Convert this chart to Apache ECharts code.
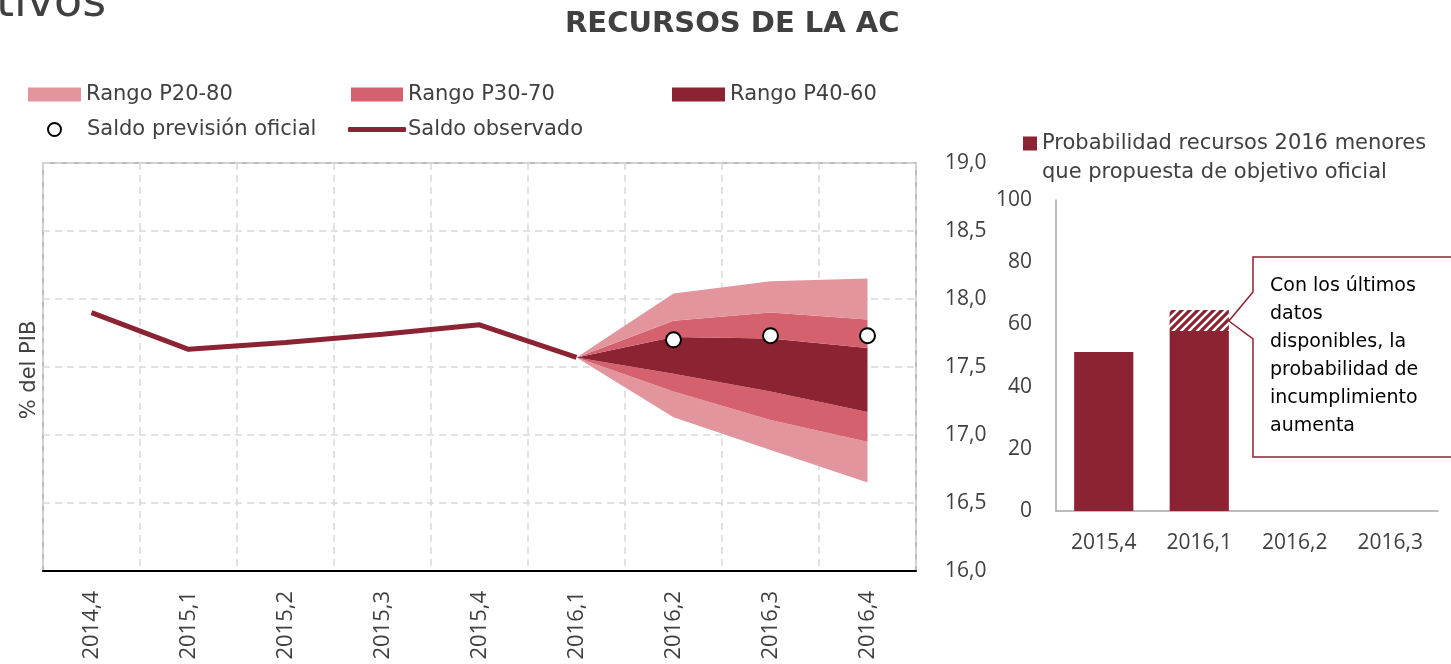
<!DOCTYPE html>
<html>
<head>
<meta charset="utf-8">
<script src="https://cdn.jsdelivr.net/npm/echarts@6/dist/echarts.min.js"></script>
<style>
  html, body { margin: 0; padding: 0; background: #fff; }
  #chart { width: 1451px; height: 664px; }
</style>
</head>
<body>
<div id="chart"></div>
<script>
// eje trimestral del abanico
const categories = ['2014,4', '2015,1', '2015,2', '2015,3', '2015,4', '2016,1', '2016,2', '2016,3', '2016,4'];

// saldo observado y prevision oficial (% del PIB)
const observed = [17.90, 17.63, 17.68, 17.74, 17.81, 17.57, null, null, null];
const official = [null, null, null, null, null, null, 17.70, 17.73, 17.73];

// percentiles del abanico
const p20Low  = [null, null, null, null, null, 17.57, 17.13, 16.89, 16.65];
const p30Low  = [null, null, null, null, null, 17.57, 17.32, 17.11, 16.95];
const p40Low  = [null, null, null, null, null, 17.57, 17.45, 17.32, 17.17];
const p40High = [null, null, null, null, null, 17.57, 17.72, 17.71, 17.64];
const p30High = [null, null, null, null, null, 17.57, 17.84, 17.90, 17.85];
const p20High = [null, null, null, null, null, 17.57, 18.04, 18.13, 18.15];

// grafico de barras de la derecha
const barCategories = ['2015,4', '2016,1', '2016,2', '2016,3'];
const probability = [51.1, 57.9, null, null];
const probabilityUpdate = [null, 6.7, null, null];

const TEXT = '#404040';
const DARK = '#8B2332';
const MID = '#D5606E';
const LIGHT = '#E3959E';
const FONT = 'DejaVu Sans';
const NUM_FONT = 'Open Sans';

const chart = echarts.init(document.getElementById('chart'), null, { renderer: 'canvas' });

const diff = (a, b) => a.map((v, i) => (v == null || b[i] == null) ? '-' : +(b[i] - v).toFixed(3));
const dash = arr => arr.map(v => v == null ? '-' : v);

// trama rayada para la actualizacion
function hatchPattern() {
    const c = document.createElement('canvas');
    c.width = 8; c.height = 8;
    const ctx = c.getContext('2d');
    ctx.fillStyle = DARK;
    ctx.fillRect(0, 0, 8, 8);
    ctx.strokeStyle = '#fff';
    ctx.lineWidth = 2.4;
    ctx.beginPath();
    ctx.moveTo(-2, 10); ctx.lineTo(10, -2);
    ctx.moveTo(-6, 6); ctx.lineTo(6, -6);
    ctx.moveTo(2, 14); ctx.lineTo(14, 2);
    ctx.stroke();
    return c;
}

function band(name, values, color) {
    return {
        name: name,
        type: 'line',
        stack: 'fan',
        data: values,
        symbol: 'none',
        lineStyle: { width: 0 },
        itemStyle: { color: color },
        areaStyle: { color: color, opacity: 1 },
        z: 2,
        silent: true
    };
}

const legendText = { color: TEXT, fontSize: 21, fontFamily: FONT };
const legendBase = { padding: 0, itemGap: 5, textStyle: legendText };

const option = {
    animation: false,
    backgroundColor: '#fff',
    textStyle: { fontFamily: FONT },
    title: {
        text: 'RECURSOS DE LA AC',
        left: 565,
        top: 10,
        padding: 0,
        textStyle: { color: TEXT, fontSize: 29, fontWeight: 'bold', fontFamily: FONT }
    },
    legend: [
        Object.assign({ left: 28, top: 84, itemWidth: 53, itemHeight: 14,
          data: [{ name: 'Rango P20-80', icon: 'rect', itemStyle: { color: LIGHT } }] }, legendBase),
        Object.assign({ left: 351, top: 84, itemWidth: 52, itemHeight: 14,
          data: [{ name: 'Rango P30-70', icon: 'rect', itemStyle: { color: MID } }] }, legendBase),
        Object.assign({ left: 672, top: 84, itemWidth: 53, itemHeight: 14,
          data: [{ name: 'Rango P40-60', icon: 'rect', itemStyle: { color: DARK } }] }, legendBase),
        {
            left: 47, top: 119, padding: 0, itemWidth: 13, itemHeight: 13,
            textStyle: Object.assign({}, legendText, { rich: { gap: { width: 21 } } }),
            formatter: n => '{gap|}' + n,
            data: [{ name: 'Saldo previsión oficial', icon: 'circle',
                     itemStyle: { color: '#fff', borderColor: '#000', borderWidth: 2 } }]
        },
        Object.assign({ left: 348, top: 119, itemWidth: 58, itemHeight: 5,
          data: [{ name: 'Saldo observado', icon: 'roundRect', itemStyle: { color: DARK } }] },
          legendBase, { textStyle: Object.assign({}, legendText, { padding: [0, 0, 0, -3] }) }),
        {
            left: 1023, top: 129, padding: 0, itemWidth: 14, itemHeight: 43.1, itemGap: 8,
            textStyle: Object.assign({}, legendText, { lineHeight: 29 }),
            formatter: n => n.replace(' que ', '\nque '),
            data: [{ name: 'Probabilidad recursos 2016 menores que propuesta de objetivo oficial',
                     icon: 'path://M0,0H14V14H0Z M0,43H0.1V43.1H0Z' }]
        }
    ],
    grid: [
        { left: 43, right: 535, top: 163, bottom: 93, show: true, borderColor: '#a6a6a6', borderWidth: 1.5 },
        { left: 1056, right: 13, top: 200, bottom: 153 }
    ],
    xAxis: [
        {
            type: 'category', gridIndex: 0, data: categories, boundaryGap: true,
            axisLine: { lineStyle: { color: '#000', width: 2 } },
            axisTick: { show: false },
            axisLabel: { rotate: 90, margin: 20, color: TEXT, fontSize: 22, fontFamily: NUM_FONT },
            splitLine: { show: true, lineStyle: { color: '#d9d9d9', type: [7, 5], width: 1.5 } }
        },
        {
            type: 'category', gridIndex: 1, data: barCategories,
            axisLine: { lineStyle: { color: '#a6a6a6', width: 1.5 } },
            axisTick: { show: false },
            axisLabel: { margin: 22, color: TEXT, fontSize: 21, fontFamily: NUM_FONT }
        }
    ],
    yAxis: [
        {
            type: 'value', gridIndex: 0, position: 'right', min: 16, max: 19, interval: 0.5,
            axisLine: { show: false },
            axisTick: { show: false },
            axisLabel: { margin: 29, color: TEXT, fontSize: 21, fontFamily: NUM_FONT,
                         formatter: v => v.toFixed(1).replace('.', ',') },
            splitLine: { show: true, lineStyle: { color: '#d9d9d9', type: [7, 5], width: 1.5 } }
        },
        {
            type: 'value', gridIndex: 1, min: 0, max: 100, interval: 20,
            axisLine: { show: true, lineStyle: { color: '#a6a6a6', width: 1.5 } },
            axisTick: { show: false },
            axisLabel: { margin: 24, color: TEXT, fontSize: 21, fontFamily: NUM_FONT },
            splitLine: { show: false }
        }
    ],
    series: [
        { name: 'base', type: 'line', stack: 'fan', data: dash(p20Low), symbol: 'none',
          lineStyle: { width: 0 }, silent: true, z: 2 },
        band('Rango P20-80', diff(p20Low, p30Low), LIGHT),
        band('Rango P30-70', diff(p30Low, p40Low), MID),
        band('Rango P40-60', diff(p40Low, p40High), DARK),
        band('Rango P30-70', diff(p40High, p30High), MID),
        band('Rango P20-80', diff(p30High, p20High), LIGHT),
        {
            name: 'Saldo observado', type: 'line', data: dash(observed),
            symbol: 'none', z: 4,
            lineStyle: { color: DARK, width: 5 },
            itemStyle: { color: DARK }
        },
        {
            name: 'Saldo previsión oficial', type: 'scatter', data: dash(official),
            symbol: 'circle', symbolSize: 15, z: 5,
            itemStyle: { color: '#fff', borderColor: '#000', borderWidth: 2, opacity: 1 }
        },
        {
            name: 'Probabilidad recursos 2016 menores que propuesta de objetivo oficial',
            type: 'bar', xAxisIndex: 1, yAxisIndex: 1, stack: 'prob', barWidth: '62%',
            data: dash(probability), itemStyle: { color: DARK }
        },
        {
            name: 'Actualización', type: 'bar', xAxisIndex: 1, yAxisIndex: 1, stack: 'prob', barWidth: '62%',
            data: dash(probabilityUpdate),
            itemStyle: { color: { image: hatchPattern(), repeat: 'repeat' } }
        }
    ]
};

chart.setOption(option);

// nota con flecha hacia la barra 2016,1
const c1 = chart.convertToPixel({ xAxisIndex: 1, yAxisIndex: 1 }, [barCategories[1], 0]);
const c2 = chart.convertToPixel({ xAxisIndex: 1, yAxisIndex: 1 }, [barCategories[2], 0]);
const tipTop = chart.convertToPixel({ xAxisIndex: 1, yAxisIndex: 1 }, [barCategories[1], probability[1] + probabilityUpdate[1] - 3.5]);
const tipX = c1[0] + (c2[0] - c1[0]) * 0.31;
const tipY = tipTop[1];
const boxL = 1253, boxT = 257, boxB = 457, boxR = 1470;

chart.setOption({
    graphic: [
        {
            type: 'text', x: -4, y: 4,
            style: { text: 'tivos', fill: TEXT, fontSize: 46, fontFamily: FONT, textVerticalAlign: 'middle' }
        },
        {
            type: 'text', x: 30, y: 370, rotation: Math.PI / 2,
            style: { text: '% del PIB', fill: TEXT, fontSize: 21, fontFamily: FONT,
                     textAlign: 'center', textVerticalAlign: 'middle' }
        },
        {
            type: 'polygon', z: 10,
            shape: { points: [[boxR, boxT], [boxL, boxT], [boxL, 292], [tipX, tipY], [boxL, 339], [boxL, boxB], [boxR, boxB]] },
            style: { fill: '#fff', stroke: DARK, lineWidth: 1.5 }
        },
        {
            type: 'text', x: 1270, y: 272, z: 11,
            style: {
                text: 'Con los últimos\ndatos\ndisponibles, la\nprobabilidad de\nincumplimiento\naumenta',
                fill: '#000', fontSize: 19, fontFamily: FONT, lineHeight: 28, textVerticalAlign: 'top'
            }
        }
    ]
});
</script>
</body>
</html>
